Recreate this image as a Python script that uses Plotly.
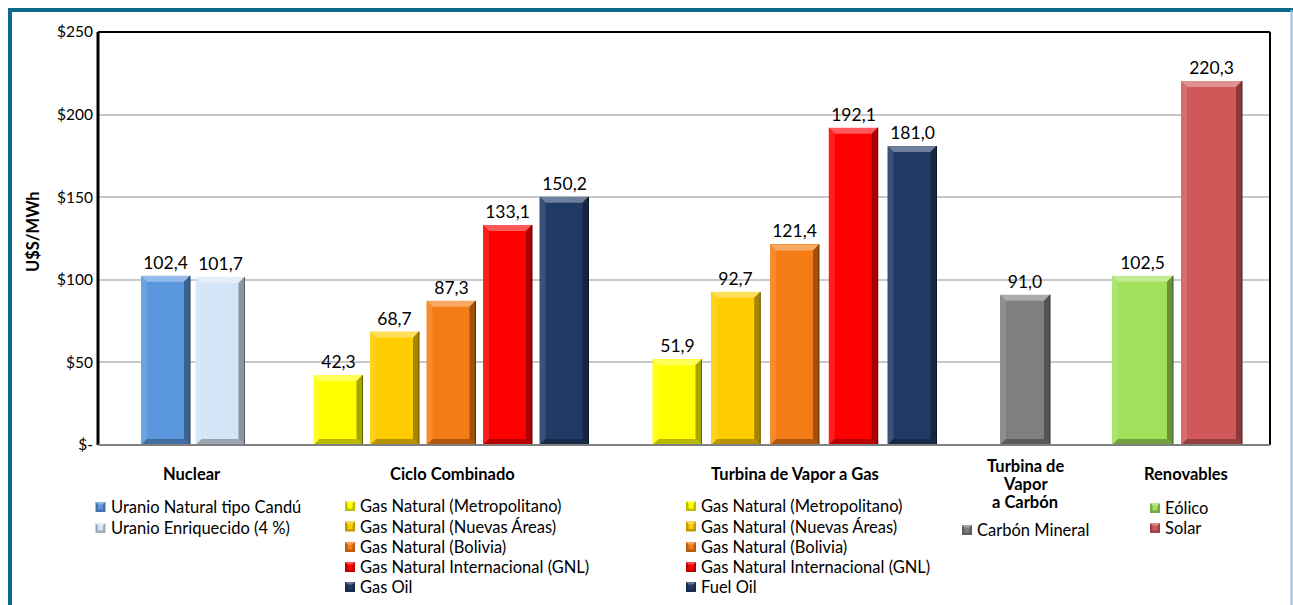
import plotly.graph_objects as go

# ---------------------------------------------------------------- data
group_titles = ["Nuclear", "Ciclo Combinado", "Turbina de Vapor a Gas",
                "Turbina de<br>Vapor<br>a Carbón", "Renovables"]

nuclear_names = ["Uranio Natural tipo Candú", "Uranio Enriquecido (4 %)"]
nuclear_vals = [102.4, 101.7]

cc_names = ["Gas Natural (Metropolitano)", "Gas Natural (Nuevas Áreas)",
            "Gas Natural (Bolivia)", "Gas Natural Internacional (GNL)", "Gas Oil"]
cc_vals = [42.3, 68.7, 87.3, 133.1, 150.2]

tv_names = ["Gas Natural (Metropolitano)", "Gas Natural (Nuevas Áreas)",
            "Gas Natural (Bolivia)", "Gas Natural Internacional (GNL)", "Fuel Oil"]
tv_vals = [51.9, 92.7, 121.4, 192.1, 181.0]

carbon_names = ["Carbón Mineral"]
carbon_vals = [91.0]

renov_names = ["Eólico", "Solar"]
renov_vals = [102.5, 220.3]

y_tickvals = [0, 50, 100, 150, 200, 250]
y_ticktext = ["$-", "$50", "$100", "$150", "$200", "$250"]
y_title = "U$S/MWh"

# ---------------------------------------------------------------- styling
nuclear_colors = ["#5A97DD", "#D4E5F8"]
gas_colors = ["#FFFF00", "#FFCC00", "#F57B14", "#FF0000", "#1F3A64"]
carbon_colors = ["#7F7F7F"]
renov_colors = ["#A0E05A", "#D05858"]

FONT = "Lato"

# plot-area box in page pixels (x axis uses the same pixel units)
PX_L, PX_R, PX_T, PX_B = 98, 1270, 32, 445
W, H = 1293, 605

# per group: first bar centre, pitch, bar width, legend swatch x, legend rows y
group_layout = [
    dict(names=nuclear_names, vals=nuclear_vals, colors=nuclear_colors,
         x0=165.5, pitch=54.5, width=49, title_x=192, title_y=474,
         sw_x=100.5, rows=[507, 528]),
    dict(names=cc_names, vals=cc_vals, colors=gas_colors,
         x0=338, pitch=56.5, width=49, title_x=452, title_y=474,
         sw_x=350, rows=[506, 526.5, 547, 567, 587]),
    dict(names=tv_names, vals=tv_vals, colors=gas_colors,
         x0=677, pitch=58.75, width=49, title_x=795, title_y=474,
         sw_x=691, rows=[506, 526.5, 547, 567, 587]),
    dict(names=carbon_names, vals=carbon_vals, colors=carbon_colors,
         x0=1025, pitch=0, width=50, title_x=1025, title_y=466,
         sw_x=967, rows=[530]),
    dict(names=renov_names, vals=renov_vals, colors=renov_colors,
         x0=1142.5, pitch=69, width=61, title_x=1186, title_y=474,
         sw_x=1155, rows=[508, 528]),
]
TITLE_LINE = 18

PX_PER_UNIT = (PX_B - PX_T) / 250.0
BEVEL_X = 6                      # bevel width in x-axis units (pixels)
BEVEL_Y = 6 / PX_PER_UNIT        # bevel height in y-axis units


def mix(hex_color, other, t):
    h = hex_color.lstrip("#")
    o = other.lstrip("#")
    a = [int(h[i:i + 2], 16) for i in (0, 2, 4)]
    b = [int(o[i:i + 2], 16) for i in (0, 2, 4)]
    c = [round(a[i] + (b[i] - a[i]) * t) for i in range(3)]
    return "#%02X%02X%02X" % tuple(c)


def px_x(px):
    return (px - PX_L) / (PX_R - PX_L)


def px_y(py):
    return (PX_B - py) / (PX_B - PX_T)


# ---------------------------------------------------------------- bars
xs, ys, ws, cols = [], [], [], []
for g in group_layout:
    for k, v in enumerate(g["vals"]):
        xs.append(g["x0"] + k * g["pitch"])
        ys.append(v)
        ws.append(g["width"])
        cols.append(g["colors"][k])

fig = go.Figure()
fig.add_trace(go.Bar(
    x=xs, y=ys, width=ws,
    marker=dict(color=cols, line=dict(width=0)),
    texttemplate="%{y:.1f}", textposition="outside",
    textfont=dict(family=FONT, size=17.5, color="#000000"),
    cliponaxis=False, hoverinfo="skip", showlegend=False,
))

shapes = []

# bevelled edges for every bar, computed from the bar value
for x, v, w, c in zip(xs, ys, ws, cols):
    l, r = x - w / 2, x + w / 2
    bx, by = BEVEL_X, BEVEL_Y
    faces = [
        # top
        ([(l, v), (r, v), (r - bx, v - by), (l + bx, v - by)], mix(c, "#FFFFFF", 0.35)),
        # left
        ([(l, 0), (l, v), (l + bx, v - by), (l + bx, by)], mix(c, "#FFFFFF", 0.12)),
        # right
        ([(r, 0), (r, v), (r - bx, v - by), (r - bx, by)], mix(c, "#000000", 0.35)),
        # bottom
        ([(l, 0), (r, 0), (r - bx, by), (l + bx, by)], mix(c, "#000000", 0.28)),
    ]
    for pts, fc in faces:
        path = "M " + " L ".join(f"{px},{py}" for px, py in pts) + " Z"
        shapes.append(dict(type="path", path=path, xref="x", yref="y",
                           fillcolor=fc, line=dict(width=0), layer="above"))
    # dark outer edge on the right side
    shapes.append(dict(type="line", xref="x", yref="y", x0=r, x1=r, y0=0, y1=v,
                       line=dict(color=mix(c, "#000000", 0.6), width=1), layer="above"))

# plot frame: black left/top/right, grey baseline
shapes += [
    dict(type="line", xref="paper", yref="paper", x0=0, x1=0, y0=0, y1=1,
         line=dict(color="#000000", width=3)),
    dict(type="line", xref="paper", yref="paper", x0=0, x1=1, y0=1, y1=1,
         line=dict(color="#000000", width=2)),
    dict(type="line", xref="paper", yref="paper", x0=1, x1=1, y0=0, y1=1,
         line=dict(color="#000000", width=2)),
    dict(type="line", xref="paper", yref="paper", x0=0, x1=1, y0=0, y1=0,
         line=dict(color="#808080", width=2), layer="above"),
]

# outer teal border of the whole graphic
shapes += [
    dict(type="line", xref="paper", yref="paper",
         x0=px_x(10), x1=px_x(10), y0=px_y(8), y1=px_y(610),
         line=dict(color="#0F6A8E", width=4)),
    dict(type="line", xref="paper", yref="paper",
         x0=px_x(8), x1=px_x(1293), y0=px_y(10), y1=px_y(10),
         line=dict(color="#0F6A8E", width=4)),
    dict(type="line", xref="paper", yref="paper",
         x0=px_x(1291.5), x1=px_x(1291.5), y0=px_y(10), y1=px_y(610),
         line=dict(color="#8CC4DC", width=2)),
]

annotations = []

# group titles and legend entries
for title, g in zip(group_titles, group_layout):
    for i, line in enumerate(title.split("<br>")):
        annotations.append(dict(
            text=f"<b>{line}</b>",
            x=px_x(g["title_x"]), y=px_y(g["title_y"] + i * TITLE_LINE),
            xref="paper", yref="paper",
            xanchor="center", yanchor="middle", showarrow=False,
            font=dict(family=FONT, size=16.5, color="#000000"),
        ))
    for name, col, row in zip(g["names"], g["colors"], g["rows"]):
        sx = g["sw_x"]
        s = 5
        shapes.append(dict(type="rect", xref="paper", yref="paper",
                           x0=px_x(sx - s), x1=px_x(sx + s),
                           y0=px_y(row + s), y1=px_y(row - s),
                           fillcolor=mix(col, "#000000", 0.25),
                           line=dict(width=0)))
        shapes.append(dict(type="path", xref="paper", yref="paper",
                           path=(f"M {px_x(sx - s)},{px_y(row - s)} "
                                 f"L {px_x(sx + s)},{px_y(row - s)} "
                                 f"L {px_x(sx)},{px_y(row)} Z"),
                           fillcolor=mix(col, "#FFFFFF", 0.3),
                           line=dict(width=0)))
        shapes.append(dict(type="rect", xref="paper", yref="paper",
                           x0=px_x(sx - s + 2.5), x1=px_x(sx + s - 2.5),
                           y0=px_y(row + s - 2.5), y1=px_y(row - s + 2.5),
                           fillcolor=col, line=dict(width=0)))
        annotations.append(dict(
            text=name, x=px_x(sx + 8), y=px_y(row), xref="paper", yref="paper",
            xanchor="left", yanchor="middle", showarrow=False,
            font=dict(family=FONT, size=16.5, color="#000000"),
        ))

# y axis title
annotations.append(dict(
    text=f"<b>{y_title}</b>", x=px_x(33), y=px_y(232), xref="paper", yref="paper",
    xanchor="center", yanchor="middle", textangle=-90, showarrow=False,
    font=dict(family=FONT, size=16.5, color="#000000"),
))

fig.update_layout(
    width=W, height=H,
    margin=dict(l=PX_L, r=W - PX_R, t=PX_T, b=H - PX_B, pad=0),
    paper_bgcolor="#FFFFFF", plot_bgcolor="#FFFFFF",
    separators=",.",
    showlegend=False,
    bargap=0,
    xaxis=dict(range=[PX_L, PX_R], showgrid=False, zeroline=False,
               showticklabels=False, ticks="", fixedrange=True),
    yaxis=dict(range=[0, 250], tickvals=y_tickvals, ticktext=y_ticktext,
               showgrid=True, gridcolor="#C8C8C8", gridwidth=2,
               zeroline=False, ticks="", ticklabelstandoff=4,
               tickfont=dict(family=FONT, size=15.5, color="#000000"),
               fixedrange=True),
    shapes=shapes,
    annotations=annotations,
)

fig.write_html("out.html")
